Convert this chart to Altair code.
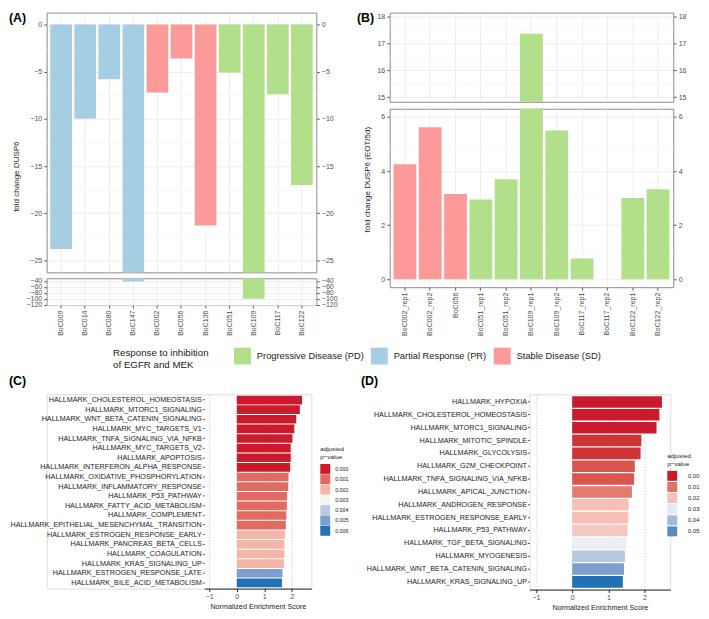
import altair as alt
import pandas as pd

FONT = "Liberation Sans"
TXT = "#4D4D4D"
DARK = "#1A1A1A"
GRID = "#E8E8E8"
GRID_MINOR = "#F4F4F4"
BORDER = "#8A8A8A"

# ---------------- Panel A: fold change DUSP6 ----------------
a_samples = ["BoC009", "BoC014", "BoC080", "BoC147", "BoC002", "BoC056",
             "BoC136", "BoC051", "BoC109", "BoC117", "BoC122"]
a_fold = [-23.8, -10.0, -5.8, -42.0, -7.2, -3.6, -21.3, -5.1, -100.0, -7.4, -17.0]
a_group = ["Partial Response (PR)"] * 4 + ["Stable Disease (SD)"] * 3 + \
          ["Progressive Disease (PD)"] * 4

# ---------------- Panel B: fold change DUSP6 (EOT/5d) ----------------
b_samples = ["BoC002_rep1", "BoC002_rep2", "BoC056", "BoC051_rep1", "BoC051_rep2",
             "BoC109_rep1", "BoC109_rep2", "BoC117_rep1", "BoC117_rep2",
             "BoC122_rep1", "BoC122_rep2"]
b_fold = [4.25, 5.62, 3.15, 2.95, 3.70, 17.35, 5.50, 0.77, None, 3.00, 3.33]
b_group = ["Stable Disease (SD)"] * 3 + ["Progressive Disease (PD)"] * 8

resp_names = ["Progressive Disease (PD)", "Partial Response (PR)", "Stable Disease (SD)"]
resp_colors = ["#B2DF8A", "#A6CEE3", "#FB9A99"]

# ---------------- Panel C: GSEA ----------------
c_terms = ["HALLMARK_CHOLESTEROL_HOMEOSTASIS", "HALLMARK_MTORC1_SIGNALING",
           "HALLMARK_WNT_BETA_CATENIN_SIGNALING", "HALLMARK_MYC_TARGETS_V1",
           "HALLMARK_TNFA_SIGNALING_VIA_NFKB", "HALLMARK_MYC_TARGETS_V2",
           "HALLMARK_APOPTOSIS", "HALLMARK_INTERFERON_ALPHA_RESPONSE",
           "HALLMARK_OXIDATIVE_PHOSPHORYLATION", "HALLMARK_INFLAMMATORY_RESPONSE",
           "HALLMARK_P53_PATHWAY", "HALLMARK_FATTY_ACID_METABOLISM",
           "HALLMARK_COMPLEMENT", "HALLMARK_EPITHELIAL_MESENCHYMAL_TRANSITION",
           "HALLMARK_ESTROGEN_RESPONSE_EARLY", "HALLMARK_PANCREAS_BETA_CELLS",
           "HALLMARK_COAGULATION", "HALLMARK_KRAS_SIGNALING_UP",
           "HALLMARK_ESTROGEN_RESPONSE_LATE", "HALLMARK_BILE_ACID_METABOLISM"]
c_nes = [2.37, 2.29, 2.16, 2.09, 2.02, 1.96, 1.96, 1.94, 1.88, 1.87,
         1.83, 1.82, 1.80, 1.78, 1.75, 1.73, 1.73, 1.72, 1.66, 1.64]
c_padj = [0.0, 0.0, 0.0, 0.0, 0.0, 0.0, 0.0, 0.0, 0.001, 0.001,
          0.001, 0.001, 0.001, 0.001, 0.002, 0.002, 0.002, 0.002, 0.005, 0.006]

# ---------------- Panel D: GSEA ----------------
d_terms = ["HALLMARK_HYPOXIA", "HALLMARK_CHOLESTEROL_HOMEOSTASIS",
           "HALLMARK_MTORC1_SIGNALING", "HALLMARK_MITOTIC_SPINDLE",
           "HALLMARK_GLYCOLYSIS", "HALLMARK_G2M_CHECKPOINT",
           "HALLMARK_TNFA_SIGNALING_VIA_NFKB", "HALLMARK_APICAL_JUNCTION",
           "HALLMARK_ANDROGEN_RESPONSE", "HALLMARK_ESTROGEN_RESPONSE_EARLY",
           "HALLMARK_P53_PATHWAY", "HALLMARK_TGF_BETA_SIGNALING",
           "HALLMARK_MYOGENESIS", "HALLMARK_WNT_BETA_CATENIN_SIGNALING",
           "HALLMARK_KRAS_SIGNALING_UP"]
d_nes = [2.48, 2.41, 2.33, 1.91, 1.89, 1.73, 1.71, 1.65, 1.56, 1.55, 1.53, 1.50, 1.46, 1.43, 1.40]
d_padj = [0.000, 0.000, 0.000, 0.002, 0.002, 0.006, 0.006, 0.011, 0.020, 0.020,
          0.021, 0.029, 0.037, 0.046, 0.055]

padj_colors = ["#CB1A2C", "#E06B60", "#F4B6A9", "#F5F5F5", "#B9CAE3", "#7B9FCE", "#2271B5"]
c_color_stops = [0.0, 0.001, 0.002, 0.003, 0.004, 0.005, 0.006]
d_color_stops = [0.0, 0.00917, 0.01833, 0.0275, 0.03667, 0.04583, 0.055]
c_legend_values = [0.0, 0.001, 0.002, 0.003, 0.004, 0.005, 0.006]
d_legend_values = [0.0, 0.01, 0.02, 0.03, 0.04, 0.05]

resp_scale = alt.Scale(domain=resp_names, range=resp_colors)


def tag_layer(tag, x, y):
    return alt.Chart(pd.DataFrame({"tag": [tag]})).mark_text(
        align="left", baseline="top", fontSize=12.5, fontWeight="bold",
        font=FONT, color="black"
    ).encode(text="tag:N", x=alt.value(x), y=alt.value(y))


def bar_panel(samples, fold, group, ydomain, major, minor, width, height, show_x,
              ytitle=None, title_y=None, tag=None, tag_x=0, tag_y=0):
    df = pd.DataFrame({"sample": samples, "fold": fold, "group": group})
    xaxis = dict(grid=True, gridColor=GRID, gridWidth=0.8, bandPosition=0.5,
                 domain=False, labels=show_x, ticks=show_x, tickColor="#333333",
                 tickSize=3, tickWidth=0.8, labelAngle=270, labelFontSize=7.1,
                 labelColor=TXT, labelFont=FONT, labelPadding=2)
    xenc = alt.X("sample:N", sort=samples, title=None,
                 scale=alt.Scale(domain=samples, paddingInner=0.1, paddingOuter=0.15),
                 axis=alt.Axis(**xaxis))
    yscale = alt.Scale(domain=ydomain, nice=False, zero=False)
    common = dict(minExtent=0, labelOverlap=False, labelFlush=False, format="d",
                  labelFontSize=7.1, labelColor=TXT, labelFont=FONT,
                  tickColor="#333333", tickSize=3, tickWidth=0.8, domain=False,
                  labelPadding=2, values=major)
    left_kw = dict(common, orient="left", grid=True, gridColor=GRID, gridWidth=0.8)
    if ytitle is not None:
        left_kw.update(titleFontSize=8.1, titleFont=FONT, titleFontWeight="normal",
                       titleColor=DARK, titlePadding=9)
        if title_y is not None:
            left_kw["titleY"] = title_y
    right_kw = dict(common, orient="right", grid=False)
    minor_kw = dict(orient="left", values=minor, grid=True, gridColor=GRID_MINOR,
                    gridWidth=0.6, labels=False, ticks=False, domain=False, minExtent=0)
    base = alt.Chart(df)
    minor_l = base.mark_bar(opacity=0, clip=True).encode(
        x=xenc, y=alt.Y("fold:Q", scale=yscale, title=None, axis=alt.Axis(**minor_kw)))
    bars = base.mark_bar(clip=True).encode(
        x=xenc,
        y=alt.Y("fold:Q", scale=yscale, title=ytitle if ytitle else None,
                axis=alt.Axis(**left_kw)),
        y2=alt.datum(0),
        color=alt.Color("group:N", scale=resp_scale, legend=None))
    right_l = base.mark_bar(opacity=0, clip=True).encode(
        x=xenc, y=alt.Y("fold:Q", scale=yscale, title=None, axis=alt.Axis(**right_kw)))
    layers = [minor_l, bars, right_l]
    if tag:
        layers.append(tag_layer(tag, tag_x, tag_y))
    return alt.layer(*layers).resolve_axis(y="independent").properties(
        width=width, height=height,
        view=alt.ViewBackground(stroke=BORDER, strokeWidth=1))


a_up = bar_panel(a_samples, a_fold, a_group, [-26.26, 1.26], [0, -5, -10, -15, -20, -25],
                 [-2.5, -7.5, -12.5, -17.5, -22.5], 272, 262, False,
                 ytitle="fold change DUSP6", title_y=165, tag="(A)", tag_x=-38, tag_y=-1)
a_low = bar_panel(a_samples, a_fold, a_group, [-121, -31], [-40, -60, -80, -100, -120],
                  [-50, -70, -90, -110], 272, 27, True)
b_up = bar_panel(b_samples, b_fold, b_group, [14.83, 18.13], [15, 16, 17, 18],
                 [15.5, 16.5, 17.5], 286, 90, False, tag="(B)", tag_x=-33, tag_y=-1)
b_low = bar_panel(b_samples, b_fold, b_group, [-0.29, 6.3], [0, 2, 4, 6], [1, 3, 5],
                  286, 180, True, ytitle="fold change DUSP6 (EOT/5d)", title_y=71)

panel_a = alt.vconcat(a_up, a_low, spacing=3)
panel_b = alt.vconcat(b_up, b_low, spacing=5)
row1 = alt.hconcat(panel_a, panel_b, spacing=18)

legend_df = pd.DataFrame({"response": resp_names})
legend_chart = alt.Chart(legend_df).mark_square(opacity=0, size=1).encode(
    color=alt.Color("response:N", scale=resp_scale, legend=alt.Legend(
        orient="none", legendX=67, legendY=6, direction="horizontal",
        titleOrient="left", titleAlign="left", titleAnchor="start",
        title=["Response to inhibition", "of EGFR and MEK"],
        titleFontSize=9.8, titleFont=FONT, titleFontWeight="normal", titleColor=DARK,
        titleLineHeight=12, titlePadding=25, labelFontSize=9.4, labelFont=FONT,
        labelColor=DARK, symbolType="square", symbolSize=289, symbolStrokeWidth=0,
        symbolOpacity=1, labelOffset=6, columnPadding=7, labelLimit=300))
).properties(width=1, height=1)


def gsea_panel(terms, nes, padj, x0, width, height, stops, lvalues, lfmt, lx, ly,
               row_pad, label_offset, lfont, tag, tag_x, tag_y):
    df = pd.DataFrame({"term": terms, "nes": nes, "padj": padj})
    bars = alt.Chart(df).mark_bar().encode(
        y=alt.Y("term:N", sort=terms, title=None,
                scale=alt.Scale(paddingInner=0.1, paddingOuter=0.15),
                axis=alt.Axis(domain=False, ticks=True, tickSize=2, tickColor="#333333",
                              tickWidth=0.8, labelFontSize=7.3, labelColor="#222222",
                              labelFont=FONT, labelPadding=1, labelLimit=400, minExtent=0,
                              offset=-x0)),
        x=alt.X("nes:Q", title="Normalized Enrichment Score",
                scale=alt.Scale(domain=[-1.18, 2.71], nice=False, zero=False,
                                range=[x0, x0 + width]),
                axis=alt.Axis(values=[-1, 0, 1, 2], format="d", grid=True,
                              gridDash=[1.5, 1.5], gridColor="#BDBDBD", gridWidth=0.7,
                              domainColor="#222222", domainWidth=1, tickColor="#222222",
                              tickSize=3, labelFontSize=7.2, labelColor=TXT, labelFont=FONT,
                              labelFlush=False, titleFontSize=7.3, titleFont=FONT,
                              titleFontWeight="normal", titleColor=DARK, titlePadding=3,
                              labelPadding=1, minExtent=0)),
        x2=alt.datum(0),
        color=alt.Color("padj:Q",
                        scale=alt.Scale(domain=stops, range=padj_colors, clamp=True),
                        legend=alt.Legend(
                            type="symbol", values=lvalues, format=lfmt, orient="none",
                            legendX=lx, legendY=ly, title=["adjusted", "p\u2212value"],
                            titleFontSize=6.3, titleFont=FONT, titleFontWeight="normal",
                            titleColor=DARK, titleLineHeight=8, titlePadding=4,
                            labelFontSize=lfont, labelFont=FONT, labelColor=DARK,
                            symbolType="square", symbolSize=100, symbolStrokeWidth=0,
                            symbolOpacity=1, rowPadding=row_pad, labelOffset=label_offset)))
    return alt.layer(bars, tag_layer(tag, tag_x, tag_y)).properties(
        width=x0 + width, height=height)


# Panel C's plot area starts 159 px right of panel A's, so its labels sit under panel A
panel_c = gsea_panel(c_terms, c_nes, c_padj, 159, 108, 196, c_color_stops, c_legend_values,
                     ".3f", 276, 52, 0.4, 5, 5.3, "(C)", -38, -19)
panel_d = gsea_panel(d_terms, d_nes, d_padj, 0, 142, 197, d_color_stops, d_legend_values,
                     ".2f", 139, 59, 1.2, 11, 6, "(D)", -170, -19)
row3 = alt.hconcat(panel_c, panel_d, spacing=10).resolve_scale(color="independent")

chart = alt.concat(row1, legend_chart, row3, columns=1, spacing=5).resolve_scale(
    color="independent"
).properties(padding=0).configure_view(stroke=None).configure(font=FONT)

chart.save("out.html", embed_options={"renderer": "svg", "actions": False})
